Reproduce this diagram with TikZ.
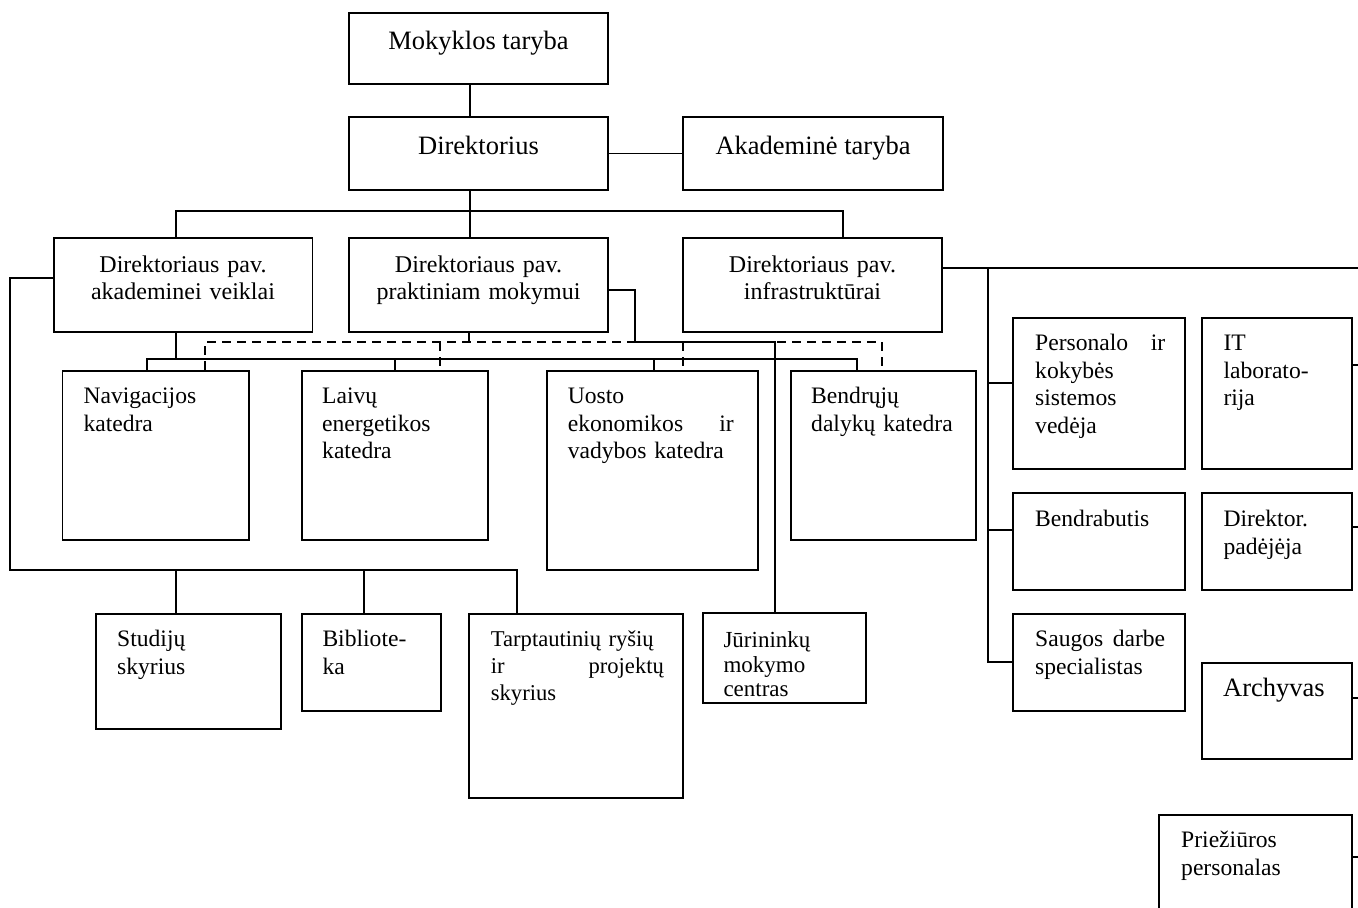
\documentclass[tikz,border=0pt]{standalone}
\usepackage{fontspec}
\setmainfont{Liberation Serif}
\usetikzlibrary{fit,calc}
\newcommand\mybox[5]{\node[box, fit={(#2,#3) (#4,#5)}] (#1) {};}
\newcommand\mytxt[5]{\node[txt, text width=#4, anchor=base west] (#1) at (#2,#3) {#5};}
\begin{document}
\begin{tikzpicture}[x=1pt,y=-1pt,
  box/.style={draw, line width=1.8pt, inner sep=0pt},
  ln/.style={line width=1.7pt},
  dsh/.style={line width=1.7pt, dash pattern=on 9pt off 6pt},
  txt/.style={inner sep=0pt, align=left, font=\fontsize{23.6}{27.5}\selectfont},
  ctxt/.style={inner sep=0pt, align=center, text width=259pt, anchor=base, font=\fontsize{24}{27.6}\selectfont},
  big/.style={inner sep=0pt, anchor=base, font=\fontsize{26.5}{30}\selectfont}]
\useasboundingbox (0,0) rectangle (1358,908);
\clip (0,0) rectangle (1358,908);

% top level
\mybox{mok}{349}{13}{608}{84}
\node[big] (tmok) at (478.5,49.3) {Mokyklos taryba};
\mybox{dir}{349}{117}{608}{190}
\node[big] (tdir) at (478.5,154) {Direktorius};
\mybox{akt}{683}{117}{943}{190}
\node[big] (takt) at (813,154) {Akademinė taryba};

% level 2
\mybox{pav1}{53.6}{238}{312.5}{332}
\node[ctxt] (tpav1) at (183,272) {Direktoriaus pav.\\akademinei veiklai};
\mybox{pav2}{349}{238}{608}{332}
\node[ctxt] (tpav2) at (478.5,272) {Direktoriaus pav.\\praktiniam mokymui};
\mybox{pav3}{683}{238}{942}{332}
\node[ctxt] (tpav3) at (812.5,272) {Direktoriaus pav.\\infrastruktūrai};

% katedros
\mybox{nav}{62.5}{370.7}{249}{540}
\mytxt{tnav}{83.3}{403.5}{145pt}{Navigacijos\\katedra}
\mybox{laiv}{302}{370.7}{488}{540}
\mytxt{tlaiv}{322}{403.5}{146pt}{Laivų\\energetikos\\katedra}
\mybox{uost}{547}{370.7}{758}{570}
\mytxt{tuost}{567.6}{403.5}{166pt}{Uosto\\ekonomikos\hfill ir\\vadybos katedra}
\mybox{bend}{791}{370.7}{976}{540}
\mytxt{tbend}{811}{403.5}{145pt}{Bendrųjų\\dalykų katedra}

% bottom left
\mybox{stud}{96}{614}{281}{729}
\mytxt{tstud}{117}{646.5}{143pt}{Studijų\\skyrius}
\mybox{bib}{302}{614}{441}{711}
\mytxt{tbib}{322.3}{646.5}{100pt}{Bibliote-\\ka}
\mybox{tarp}{469}{614}{683}{797.7}
\node[txt, text width=173pt, anchor=base west, font=\fontsize{22.6}{26.8}\selectfont] (ttarp) at (490.7,646.7) {Tarptautinių ryšių\\ir\hfill projektų\\skyrius};
\mybox{jur}{702.7}{613}{865.7}{702.7}
\node[txt, text width=122pt, anchor=base west, font=\fontsize{23}{24.7}\selectfont] (tjur) at (723.3,647.3) {Jūrininkų\\mokymo\\centras};

% right side
\mybox{pers}{1013}{318}{1185}{469}
\mytxt{tpers}{1035}{350.7}{130pt}{Personalo\hfill ir\\kokybės\\sistemos\\vedėja}
\mybox{it}{1202}{318}{1352}{469}
\mytxt{tit}{1223.3}{350.7}{110pt}{IT\\laborato-\\rija}
\mybox{bendr}{1013}{493}{1185}{590}
\mytxt{tbendr}{1035}{526.7}{130pt}{Bendrabutis}
\mybox{dpad}{1202}{493}{1352}{590}
\mytxt{tdpad}{1223.3}{526.7}{110pt}{Direktor.\\padėjėja}
\mybox{saug}{1013}{614}{1185}{711}
\mytxt{tsaug}{1035}{646.7}{130pt}{Saugos\hfill darbe\\specialistas}
\mybox{arch}{1202}{662.7}{1352}{759}
\node[big, anchor=base west] (tarch) at (1223,696.7) {Archyvas};
\mybox{prie}{1159}{815}{1352}{930}
\mytxt{tprie}{1181}{847.7}{150pt}{Priežiūros\\personalas}

% coordinates
\coordinate (cx470) at (470,211);
\coordinate (cx176) at (176,211);
\coordinate (cx843) at (843,211);
\coordinate (l1) at (10,278);
\coordinate (l2) at (10,570);
\coordinate (l3) at (517,570);
\coordinate (b176) at (176,570);
\coordinate (b364) at (364,570);
\coordinate (s176) at (176,359);
\coordinate (s147) at (147,359);
\coordinate (s395) at (395,359);
\coordinate (s654) at (654,359);
\coordinate (s857) at (857,359);
\coordinate (d469) at (469,342);
\coordinate (d205) at (205,342);
\coordinate (d440) at (440,342);
\coordinate (d683) at (683,342);
\coordinate (d882) at (882,342);
\coordinate (p1) at (635,290);
\coordinate (p2) at (635,342);
\coordinate (p3) at (775,342);
\coordinate (r1) at (988,268);
\coordinate (redge) at (1358,268);
\coordinate (r2) at (988,383);
\coordinate (r3) at (988,530);
\coordinate (r4) at (988,662);
\coordinate (e1) at (1358,365);
\coordinate (e2) at (1358,527);
\coordinate (e3) at (1358,698);
\coordinate (e4) at (1358,857);

% connectors
\draw[ln] (mok.south -| cx470) -- (dir.north -| cx470);
\draw[ln] (dir.east) -- (akt.west);
\draw[ln] (dir.south -| cx470) -- (cx470);
\draw[ln] (pav1.north -| cx176) -- (cx176) -- (cx843) -- (pav3.north -| cx843);
\draw[ln] (cx470) -- (pav2.north -| cx470);

\draw[ln] (pav1.west |- l1) -- (l1) -- (l2) -- (l3) -- (tarp.north -| l3);
\draw[ln] (b176) -- (stud.north -| b176);
\draw[ln] (b364) -- (bib.north -| b364);

\draw[ln] (pav1.south -| s176) -- (s176);
\draw[ln] (nav.north -| s147) -- (s147) -- (s857) -- (bend.north -| s857);
\draw[ln] (s395) -- (laiv.north -| s395);
\draw[ln] (s654) -- (uost.north -| s654);

\draw[ln] (pav2.south -| d469) -- (d469);
\draw[dsh] (nav.north -| d205) -- (d205) -- (d882) -- (bend.north -| d882);
\draw[dsh] (d440) -- (laiv.north -| d440);
\draw[dsh] (d683) -- (uost.north -| d683);

\draw[ln] (pav2.east |- p1) -- (p1) -- (p2) -- (p3) -- (jur.north -| p3);

\draw[ln] (pav3.east |- r1) -- (redge);
\draw[ln] (r1) -- (r4) -- (saug.west |- r4);
\draw[ln] (r2) -- (pers.west |- r2);
\draw[ln] (r3) -- (bendr.west |- r3);

\draw[ln] (it.east |- e1) -- (e1);
\draw[ln] (dpad.east |- e2) -- (e2);
\draw[ln] (arch.east |- e3) -- (e3);
\draw[ln] (prie.east |- e4) -- (e4);
\end{tikzpicture}
\end{document}
